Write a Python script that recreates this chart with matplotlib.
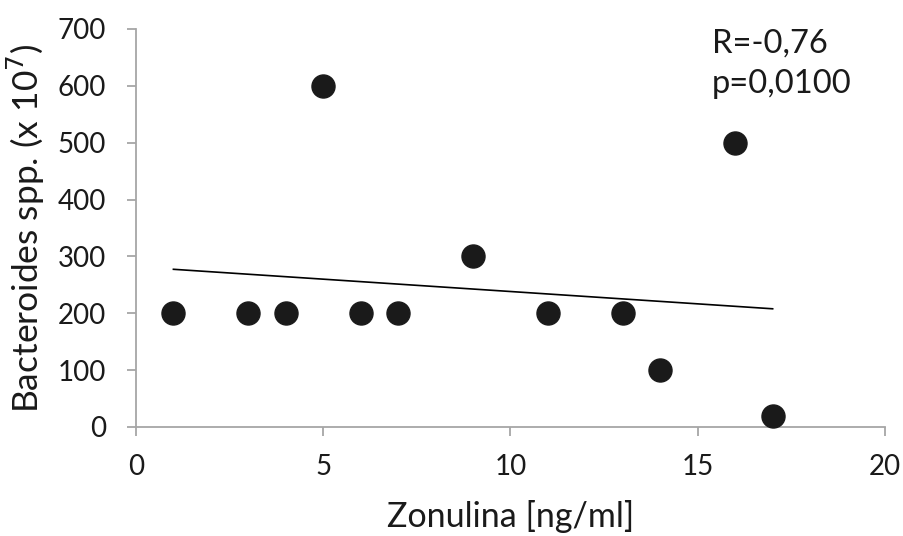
#!/usr/bin/env python3

import numpy as np
import matplotlib
matplotlib.use('Agg')
import matplotlib.pyplot as plt


zonulina = [1, 3, 4, 5, 6, 7, 9, 11, 13, 14, 16, 17]
bacteroides = [200, 200, 200, 600, 200, 200, 300, 200, 200, 100, 500, 20]
x_ticks = [0, 5, 10, 15, 20]
y_ticks = [0, 100, 200, 300, 400, 500, 600, 700]
stats_text = 'R=-0,76\np=0,0100'


def main():
    plt.rcParams['font.family'] = ['Lato', 'DejaVu Sans']
    axis_color = '#a6a6a6'
    text_color = '#1a1a1a'

    fig = plt.figure(figsize=(9.04, 5.36), dpi=100)
    ax = fig.add_axes([0.1504, 0.2034, 0.8286, 0.7425])

    ax.scatter(zonulina, bacteroides, s=275, color='#1a1a1a', zorder=3,
               clip_on=False)

    # linear trendline
    slope, intercept = np.polyfit(zonulina, bacteroides, 1)
    xs = np.array([min(zonulina), max(zonulina)])
    ax.plot(xs, slope * xs + intercept, color='black', linewidth=1.2)

    ax.set_xlim(0, 20)
    ax.set_ylim(0, 700)
    ax.set_xticks(x_ticks)
    ax.set_yticks(y_ticks)

    for side in ('top', 'right'):
        ax.spines[side].set_visible(False)
    for side in ('left', 'bottom'):
        ax.spines[side].set_color(axis_color)
        ax.spines[side].set_linewidth(1.3)
    ax.tick_params(colors=axis_color, labelcolor=text_color, labelsize=20,
                   length=6.5, width=1.3)
    ax.tick_params(axis='y', pad=15)
    ax.tick_params(axis='x', pad=13)

    ax.set_xlabel('Zonulina [ng/ml]', fontsize=24.5, color=text_color,
                  labelpad=14)
    ax.set_ylabel('Bacteroides spp. (x 10$^{7}$)', fontsize=25.5,
                  color=text_color, labelpad=8)

    ax.text(0.769, 1.0, stats_text, transform=ax.transAxes, fontsize=23.5,
            color=text_color, va='top', ha='left', linespacing=1.4)

    fig.savefig('out.png', dpi=100)


if __name__ == '__main__':
    main()
